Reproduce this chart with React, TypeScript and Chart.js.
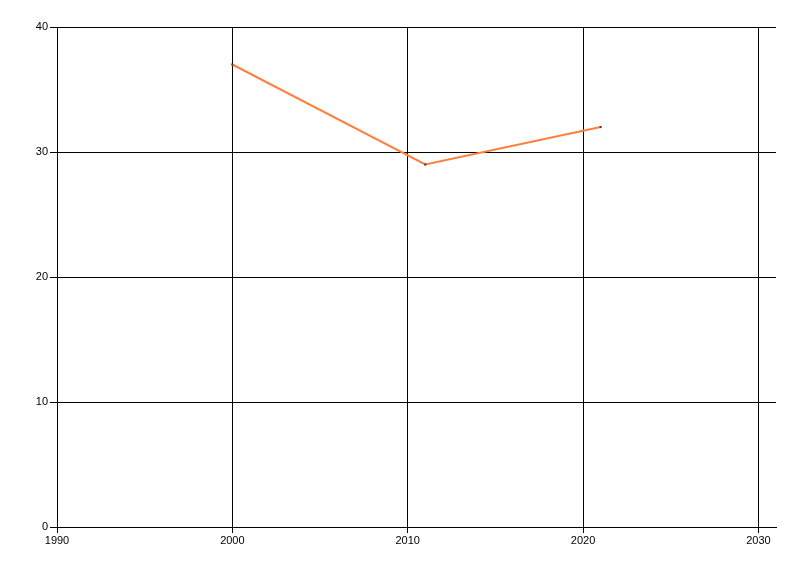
import React, { useEffect, useRef } from "react";
import { Chart, registerables } from "chart.js";

Chart.register(...registerables);

const years = [2000, 2011, 2021];
const values = [37, 29, 32];
const xTicks = [1990, 2000, 2010, 2020, 2030];
const yTicks = [0, 10, 20, 30, 40];

export default function App() {
  const ref = useRef<HTMLCanvasElement>(null);
  useEffect(() => {
    if (!ref.current) return;
    const chart = new Chart(ref.current, {
      type: "line",
      data: {
        datasets: [
          {
            data: years.map((y, i) => ({ x: y, y: values[i] })),
            borderColor: "#FF7F3F",
            borderWidth: 2,
            pointRadius: 1.5,
            pointStyle: "rect",
            pointBackgroundColor: "#444",
            pointBorderColor: "#444",
            pointBorderWidth: 0,
            tension: 0,
          },
        ],
      },
      options: {
        animation: false,
        responsive: false,
        maintainAspectRatio: false,
        layout: { padding: { top: 27, right: 24, left: 0, bottom: 0 } },
        plugins: { legend: { display: false }, tooltip: { enabled: false } },
        scales: {
          x: {
            type: "linear",
            min: 1990,
            max: 2031,
            afterBuildTicks: (axis: any) => {
              axis.ticks = xTicks.map((v) => ({ value: v }));
            },
            afterFit: (axis: any) => {
              axis.height = 49;
            },
            ticks: {
              color: "#000",
              font: { family: "Liberation Sans, Arial, sans-serif", size: 11 },
              padding: 1,
              maxRotation: 0,
              autoSkip: false,
              callback: (v: any) => String(v),
            },
            grid: { color: "#000", lineWidth: 1, tickLength: 6, drawOnChartArea: true },
            border: { display: true, color: "#000", width: 1 },
          },
          y: {
            type: "linear",
            min: 0,
            max: 40,
            afterBuildTicks: (axis: any) => {
              axis.ticks = yTicks.map((v) => ({ value: v }));
            },
            afterFit: (axis: any) => {
              axis.width = 57;
            },
            ticks: {
              color: "#000",
              font: { family: "Liberation Sans, Arial, sans-serif", size: 11 },
              padding: 2,
              autoSkip: false,
            },
            grid: { color: "#000", lineWidth: 1, tickLength: 7 },
            border: { display: true, color: "#000", width: 1 },
          },
        },
      },
    });
    return () => chart.destroy();
  }, []);
  return (
    <div style={{ position: "fixed", left: 0, top: 0, width: 800, height: 576, background: "#fff" }}>
      <canvas ref={ref} width={800} height={576} style={{ width: 800, height: 576 }} />
    </div>
  );
}
